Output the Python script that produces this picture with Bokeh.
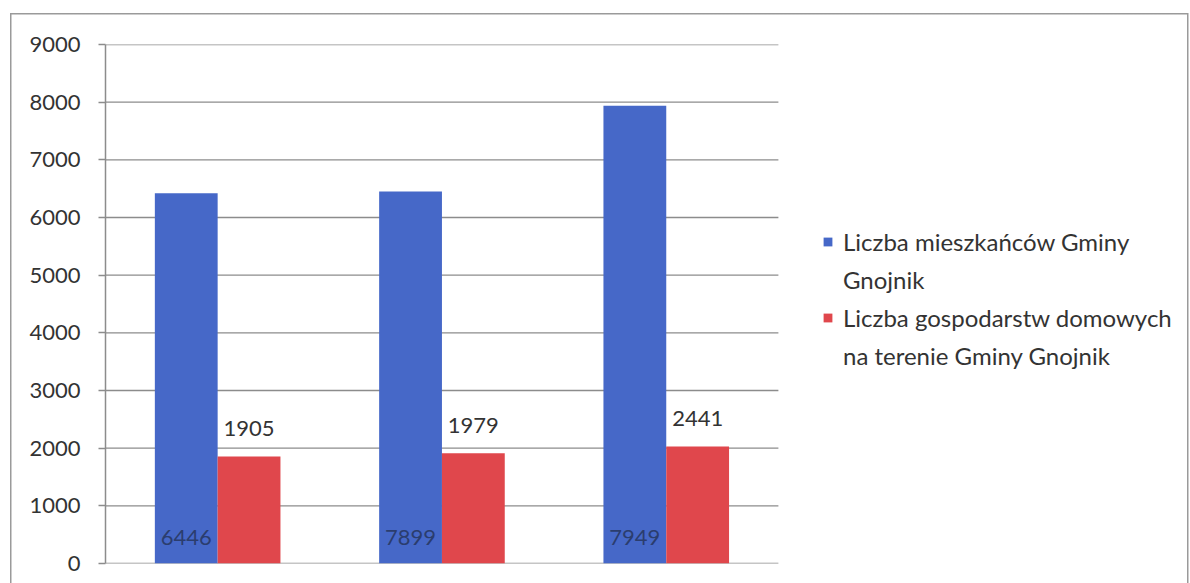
from bokeh.plotting import figure
from bokeh.models import (Range1d, FixedTicker, Legend, LegendItem, ColumnDataSource,
                          InlineStyleSheet)
from bokeh.core.properties import value
from bokeh.embed import file_html
from bokeh.resources import INLINE

# ---- data ----
categories = ["1", "2", "3"]
residents = [6420, 6450, 7940]          # bar heights as drawn
households = [1855, 1910, 2030]         # bar heights as drawn
residents_labels = ["6446", "7899", "7949"]
households_labels = ["1905", "1979", "2441"]
legend_lines_1 = ["Liczba mieszkańców Gminy", "Gnojnik"]
legend_lines_2 = ["Liczba gospodarstw domowych", "na terenie Gminy Gnojnik"]
y_ticks = [0, 1000, 2000, 3000, 4000, 5000, 6000, 7000, 8000, 9000]

BLUE = "#4668c8"
RED = "#e0474c"
FONT = "Lato"
GRID = "#8c8c8c"
TEXT = "#333333"

W, H = 1190, 583
LEFT, TOP, BOTTOM = 105, 44, 20
CAT_PX = 224.3                      # pixel width of one category slot
n = len(categories)
x_end = (W - LEFT) / CAT_PX         # frame also hosts the legend on the right

centers = [i + 0.5 for i in range(n)]
BW = 0.28
src = ColumnDataSource(dict(
    xb=[c - BW / 2 for c in centers], xr=[c + BW / 2 for c in centers],
    res=residents, hh=households,
    res_lab=residents_labels, hh_lab=households_labels,
    zero=[0] * n))

p = figure(x_range=Range1d(0, x_end), y_range=Range1d(0, 9000),
           width=W, height=H, output_backend="svg", toolbar_location=None,
           min_border_left=LEFT, min_border_top=TOP, min_border_bottom=BOTTOM,
           min_border_right=0)
p.outline_line_color = None
p.background_fill_color = None
p.border_fill_color = None
# outer frame of the picture: left, top and right edges (bottom is cut off)
p.stylesheets = [InlineStyleSheet(css=""":host {
  background:
    linear-gradient(#9a9a9a, #9a9a9a) 10px 13px / 1.5px 100% no-repeat,
    linear-gradient(#9a9a9a, #9a9a9a) 10px 13px / 1178px 1.5px no-repeat,
    linear-gradient(#9a9a9a, #9a9a9a) 1187px 13px / 1.5px 100% no-repeat,
    white;
}""")]

# horizontal grid lines over the category area only
p.segment(x0=[0] * len(y_ticks), x1=[n] * len(y_ticks), y0=y_ticks, y1=y_ticks,
          line_color=GRID, line_width=1.3)

r1 = p.vbar(x="xb", top="res", width=BW, source=src, fill_color=BLUE, line_color=None)
r2 = p.vbar(x="xr", top="hh", width=BW, source=src, fill_color=RED, line_color=None)
# invisible renderer for the second line of each legend entry
blank = p.vbar(x=[], top=[], width=0.1, fill_alpha=0, line_alpha=0)

p.text(x="xb", y="zero", text="res_lab", source=src,
       text_font=value(FONT), text_font_size="22px", text_color="#2b3d6e",
       text_align="center", text_baseline="middle", y_offset=-26)
p.text(x="xr", y="hh", text="hh_lab", source=src,
       text_font=value(FONT), text_font_size="22px", text_color=TEXT,
       text_align="center", text_baseline="middle", y_offset=-28)

p.xaxis.visible = False
p.xgrid.grid_line_color = None
p.ygrid.grid_line_color = None

ax = p.yaxis[0]
ax.ticker = FixedTicker(ticks=y_ticks)
ax.axis_line_color = GRID
ax.axis_line_width = 1.5
ax.major_tick_line_color = GRID
ax.major_tick_line_width = 1.3
ax.major_tick_out = 7
ax.major_tick_in = 0
ax.minor_tick_line_color = None
ax.major_label_standoff = 18
ax.major_label_text_font = FONT
ax.major_label_text_font_size = "22px"
ax.major_label_text_color = TEXT

legend = Legend(items=[LegendItem(label=legend_lines_1[0], renderers=[r1]),
                       LegendItem(label=legend_lines_1[1], renderers=[blank]),
                       LegendItem(label=legend_lines_2[0], renderers=[r2]),
                       LegendItem(label=legend_lines_2[1], renderers=[blank])],
                location=(717, 193), orientation="vertical")
legend.label_text_font = FONT
legend.label_text_font_size = "24px"
legend.label_text_color = TEXT
legend.glyph_width = 11
legend.glyph_height = 11
legend.label_height = 30
legend.padding = 0
legend.margin = 0
legend.spacing = 8
legend.label_standoff = 10
legend.border_line_color = None
legend.background_fill_alpha = 0
p.add_layout(legend)

open("out.html", "w").write(file_html(p, INLINE))
